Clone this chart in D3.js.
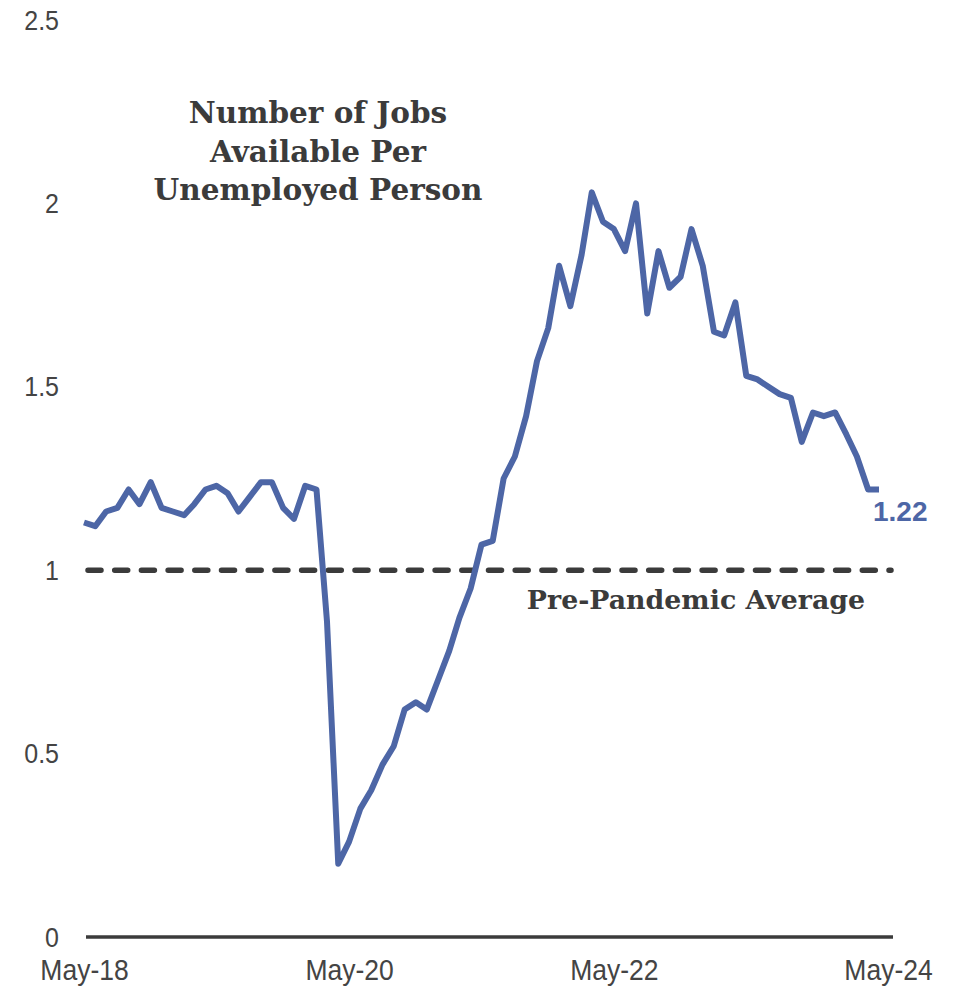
<!DOCTYPE html>
<html>
<head>
<meta charset="utf-8">
<script src="https://cdn.jsdelivr.net/npm/d3@7"></script>
<style>
  html, body { margin: 0; padding: 0; background: #fff; }
  svg { display: block; }
</style>
</head>
<body>
<svg id="chart" width="954" height="988"></svg>
<script>
// Monthly series, May-18 through May-24
const startMonth = "2018-05";
const endMonth = "2024-05";
const ratio = [
  1.13, 1.12, 1.16, 1.17, 1.22, 1.18, 1.24, 1.17, 1.16, 1.15, 1.18, 1.22,
  1.23, 1.21, 1.16, 1.20, 1.24, 1.24, 1.17, 1.14, 1.23, 1.22, 0.86, 0.20,
  0.26, 0.35, 0.40, 0.47, 0.52, 0.62, 0.64, 0.62, 0.70, 0.78, 0.87, 0.95,
  1.07, 1.08, 1.25, 1.31, 1.42, 1.57, 1.66, 1.83, 1.72, 1.86, 2.03, 1.95,
  1.93, 1.87, 2.00, 1.70, 1.87, 1.77, 1.80, 1.93, 1.83, 1.65, 1.64, 1.73,
  1.53, 1.52, 1.50, 1.48, 1.47, 1.35, 1.43, 1.42, 1.43, 1.37, 1.31, 1.22,
  1.22
];
const xTickMonths = ["2018-05", "2020-05", "2022-05", "2024-05"];
const yTicks = [0, 0.5, 1, 1.5, 2, 2.5];
const baselineValue = 1;
const baselineLabel = "Pre-Pandemic Average";
const titleLines = ["Number of Jobs", "Available Per", "Unemployed Person"];
const lastLabel = "1.22";

const parseMonth = d3.timeParse("%Y-%m");
const months = d3.timeMonth.range(parseMonth(startMonth), d3.timeMonth.offset(parseMonth(endMonth), 1));
const series = months.map((m, i) => ({ date: m, value: ratio[i] }));

const svg = d3.select("#chart");
const lineColor = "#4d66a6";
const inkColor = "#3b3b3b";
const sansFont = "'Liberation Sans', Arial, sans-serif";
const serifFont = "'DejaVu Serif', Georgia, serif";
const tall = "scale(1,1.13)";

const x = d3.scaleTime()
  .domain([parseMonth(startMonth), parseMonth(endMonth)])
  .range([84, 879]);
const y = d3.scaleLinear().domain([0, 2.5]).range([937, 20]);

// Y axis labels
const yAxis = d3.axisLeft(y).tickValues(yTicks).tickSize(0).tickPadding(0)
  .tickFormat(d3.format(""));
const gy = svg.append("g").attr("transform", "translate(59,0)").call(yAxis);
gy.select(".domain").remove();
gy.selectAll("text")
  .attr("font-family", sansFont).attr("font-size", 25)
  .attr("fill", "#444").attr("dy", "0.32em")
  .attr("transform", tall);

// X axis labels
const fmt = d3.timeFormat("%b-%y");
const xAxis = d3.axisBottom(x).tickValues(xTickMonths.map(parseMonth))
  .tickSize(0).tickPadding(0).tickFormat(fmt);
const gx = svg.append("g").attr("transform", "translate(0,958)").call(xAxis);
gx.select(".domain").remove();
gx.selectAll("text")
  .attr("font-family", sansFont).attr("font-size", 26.5)
  .attr("fill", "#444").attr("dy", "0.72em")
  .attr("transform", tall);
gx.selectAll(".tick").filter((d, i, n) => i === n.length - 1)
  .select("text").attr("dx", 9);

// Zero line
svg.append("line")
  .attr("x1", x.range()[0] + 2).attr("x2", x.range()[1] + 14)
  .attr("y1", y(0)).attr("y2", y(0))
  .attr("stroke", inkColor).attr("stroke-width", 3.5);

// Pre-pandemic reference
svg.append("line")
  .attr("x1", x.range()[0] + 4).attr("x2", x.range()[1] + 12)
  .attr("y1", y(baselineValue)).attr("y2", y(baselineValue))
  .attr("stroke", inkColor).attr("stroke-width", 5.5)
  .attr("stroke-linecap", "round")
  .attr("stroke-dasharray", "13 13.7");

svg.append("text")
  .attr("x", 696).attr("y", y(baselineValue) + 39)
  .attr("text-anchor", "middle")
  .attr("font-family", serifFont).attr("font-weight", "bold")
  .attr("font-size", 26.8).attr("fill", inkColor)
  .text(baselineLabel);

// Series line
const line = d3.line().x(d => x(d.date)).y(d => y(d.value));
svg.append("path")
  .datum(series)
  .attr("d", line)
  .attr("fill", "none")
  .attr("stroke", lineColor)
  .attr("stroke-width", 6)
  .attr("stroke-linejoin", "round");

// Latest value label
const last = series[series.length - 1];
svg.append("text")
  .attr("x", x(last.date) - 6).attr("y", y(last.value) + 31)
  .attr("font-family", sansFont).attr("font-weight", "bold")
  .attr("font-size", 28).attr("fill", lineColor)
  .text(lastLabel);

// Title
svg.append("text")
  .attr("text-anchor", "middle")
  .attr("font-family", serifFont).attr("font-weight", "bold")
  .attr("font-size", 29.5).attr("fill", inkColor)
  .selectAll("tspan").data(titleLines).join("tspan")
  .attr("x", 318).attr("y", (d, i) => 123 + i * 38.5)
  .text(d => d);
</script>
</body>
</html>
